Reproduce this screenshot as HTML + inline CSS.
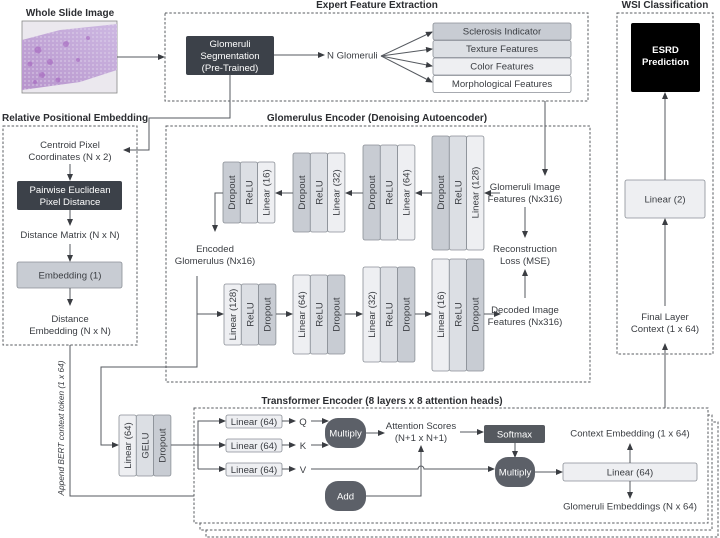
<!DOCTYPE html>
<html><head><meta charset="utf-8"><style>
html,body{margin:0;padding:0;background:#fff;}
svg{display:block;font-family:"Liberation Sans",sans-serif;}
text{fill:#3a3d42;font-size:9.6px;}
.b{font-weight:bold;fill:#2b2d31;font-size:10px;}
.w{fill:#fff;}
.ln{stroke:#55595f;stroke-width:1;fill:none;}
.dash{stroke:#5a5d62;stroke-width:1;fill:none;stroke-dasharray:2.5,1.8;}
.c1{fill:#c8ccd3;stroke:#8a8f96;stroke-width:.8;}
.c2{fill:#dcdfe4;stroke:#8a8f96;stroke-width:.8;}
.c3{fill:#eeeff2;stroke:#8a8f96;stroke-width:.8;}
.dk{fill:#3c4149;}
.pill{fill:#5c6068;}
</style></head><body>
<svg width="720" height="538" viewBox="0 0 720 538" xmlns="http://www.w3.org/2000/svg">
<defs>
<marker id="a" markerWidth="7" markerHeight="6" refX="6" refY="3" orient="auto" markerUnits="userSpaceOnUse"><path d="M0,0 L7,3 L0,6 z" fill="#3a3d42"/></marker>
<linearGradient id="tis" x1="0" y1="1" x2="1" y2="0"><stop offset="0" stop-color="#b794cc"/><stop offset="1" stop-color="#cdb8e2"/></linearGradient>
<pattern id="tx" width="4" height="4" patternUnits="userSpaceOnUse"><rect width="4" height="4" fill="none"/><circle cx="1" cy="1" r="0.9" fill="#e4dcef" opacity=".6"/></pattern>
</defs>

<!-- Whole slide image -->
<text class="b" x="70" y="16" text-anchor="middle">Whole Slide Image</text>
<rect x="22" y="21" width="95" height="72" fill="#ebe8ee" stroke="#888" stroke-width=".8"/>
<path d="M22,40 L60,30 L117,24 L117,70 L80,82 L22,90 Z" fill="url(#tis)"/>
<path d="M22,40 L60,30 L117,24 L117,70 L80,82 L22,90 Z" fill="url(#tx)"/>
<g fill="#a35fbd" opacity=".55">
<circle cx="38" cy="50" r="3.5"/><circle cx="50" cy="62" r="3"/><circle cx="66" cy="44" r="3"/><circle cx="42" cy="75" r="3"/><circle cx="30" cy="64" r="2.5"/><circle cx="58" cy="80" r="2.5"/><circle cx="78" cy="60" r="2"/><circle cx="88" cy="38" r="2"/><circle cx="35" cy="82" r="2"/></g>
<line class="ln" x1="117" y1="57" x2="164" y2="57" marker-end="url(#a)"/>

<!-- Expert Feature Extraction -->
<text class="b" x="377" y="8" text-anchor="middle">Expert Feature Extraction</text>
<rect class="dash" x="165" y="13" width="423" height="88"/>
<rect class="dk" x="186" y="36" width="88" height="39" rx="2"/>
<text class="w" x="230" y="47" text-anchor="middle">Glomeruli</text>
<text class="w" x="230" y="59" text-anchor="middle">Segmentation</text>
<text class="w" x="230" y="71" text-anchor="middle">(Pre-Trained)</text>
<line class="ln" x1="274" y1="55" x2="324" y2="55" marker-end="url(#a)"/>
<text x="327" y="58.5">N Glomeruli</text>
<g class="ln">
<line x1="381" y1="56" x2="432" y2="32" marker-end="url(#a)"/>
<line x1="381" y1="56" x2="432" y2="49" marker-end="url(#a)"/>
<line x1="381" y1="56" x2="432" y2="66" marker-end="url(#a)"/>
<line x1="381" y1="56" x2="432" y2="82" marker-end="url(#a)"/>
</g>
<rect class="c1" x="433" y="23" width="138" height="17" rx="2"/>
<rect class="c2" x="433" y="40.5" width="138" height="17" rx="2"/>
<rect class="c3" x="433" y="58" width="138" height="17" rx="2"/>
<rect x="433" y="75.5" width="138" height="17" rx="2" fill="#fff" stroke="#8a8f96" stroke-width=".8"/>
<text x="502" y="34.5" text-anchor="middle">Sclerosis Indicator</text>
<text x="502" y="52" text-anchor="middle">Texture Features</text>
<text x="502" y="69.5" text-anchor="middle">Color Features</text>
<text x="502" y="87" text-anchor="middle">Morphological Features</text>

<!-- WSI classification -->
<text class="b" x="665" y="8" text-anchor="middle">WSI Classification</text>
<rect class="dash" x="617" y="13" width="96" height="341"/>
<rect x="631" y="23" width="69" height="69" rx="2" fill="#000"/>
<text class="w" x="665.5" y="53" text-anchor="middle" style="font-weight:bold">ESRD</text>
<text class="w" x="665.5" y="65" text-anchor="middle" style="font-weight:bold">Prediction</text>
<rect class="c3" x="625" y="180" width="80" height="38" rx="2"/>
<text x="665" y="202.5" text-anchor="middle">Linear (2)</text>
<line class="ln" x1="665" y1="180" x2="665" y2="93" marker-end="url(#a)"/>
<line class="ln" x1="665" y1="306" x2="665" y2="219" marker-end="url(#a)"/>
<text x="665" y="320" text-anchor="middle">Final Layer</text>
<text x="665" y="332" text-anchor="middle">Context (1 x 64)</text>
<line class="ln" x1="665" y1="421" x2="665" y2="344" marker-end="url(#a)"/>

<!-- Relative positional embedding -->
<text class="b" x="2" y="121">Relative Positional Embedding</text>
<rect class="dash" x="3" y="126" width="134" height="219"/>
<polyline class="ln" points="230,75 230,118 149,118 149,150 124,150" marker-end="url(#a)"/>
<text x="70" y="148" text-anchor="middle">Centroid Pixel</text>
<text x="70" y="160" text-anchor="middle">Coordinates (N x 2)</text>
<line class="ln" x1="70" y1="164" x2="70" y2="180" marker-end="url(#a)"/>
<rect class="dk" x="17" y="181" width="105" height="29" rx="2"/>
<text class="w" x="70" y="193" text-anchor="middle">Pairwise Euclidean</text>
<text class="w" x="70" y="205" text-anchor="middle">Pixel Distance</text>
<line class="ln" x1="70" y1="210" x2="70" y2="225" marker-end="url(#a)"/>
<text x="70" y="238" text-anchor="middle">Distance Matrix (N x N)</text>
<line class="ln" x1="70" y1="244" x2="70" y2="261" marker-end="url(#a)"/>
<rect class="c1" x="17" y="262" width="105" height="26" rx="2"/>
<text x="70" y="278.5" text-anchor="middle">Embedding (1)</text>
<line class="ln" x1="70" y1="288" x2="70" y2="305" marker-end="url(#a)"/>
<text x="70" y="322" text-anchor="middle">Distance</text>
<text x="70" y="334" text-anchor="middle">Embedding (N x N)</text>
<polyline class="ln" points="70,345 70,496 324,496" marker-end="url(#a)"/>
<text transform="translate(64,428) rotate(-90)" text-anchor="middle" style="font-size:8.3px;font-style:italic">Append BERT context token (1 x 64)</text>

<!-- Glomerulus encoder -->
<text class="b" x="377" y="121" text-anchor="middle">Glomerulus Encoder (Denoising Autoencoder)</text>
<rect class="dash" x="166" y="126" width="424" height="256"/>

<g>
<rect class="c1" x="223" y="162" width="17.3" height="61" rx="2"/><rect class="c2" x="240.3" y="162" width="17.3" height="61" rx="2"/><rect class="c3" x="257.6" y="162" width="17.3" height="61" rx="2"/>
<rect class="c1" x="293" y="153" width="17.3" height="79" rx="2"/><rect class="c2" x="310.3" y="153" width="17.3" height="79" rx="2"/><rect class="c3" x="327.6" y="153" width="17.3" height="79" rx="2"/>
<rect class="c1" x="363" y="145" width="17.3" height="95" rx="2"/><rect class="c2" x="380.3" y="145" width="17.3" height="95" rx="2"/><rect class="c3" x="397.6" y="145" width="17.3" height="95" rx="2"/>
<rect class="c1" x="432" y="136" width="17.3" height="114" rx="2"/><rect class="c2" x="449.3" y="136" width="17.3" height="114" rx="2"/><rect class="c3" x="466.6" y="136" width="17.3" height="114" rx="2"/>
</g>
<g text-anchor="middle">
<text transform="translate(235,192.5) rotate(-90)">Dropout</text><text transform="translate(252.3,192.5) rotate(-90)">ReLU</text><text transform="translate(269.6,192.5) rotate(-90)">Linear (16)</text>
<text transform="translate(305,192.5) rotate(-90)">Dropout</text><text transform="translate(322.3,192.5) rotate(-90)">ReLU</text><text transform="translate(339.6,192.5) rotate(-90)">Linear (32)</text>
<text transform="translate(375,192.5) rotate(-90)">Dropout</text><text transform="translate(392.3,192.5) rotate(-90)">ReLU</text><text transform="translate(409.6,192.5) rotate(-90)">Linear (64)</text>
<text transform="translate(444,192.5) rotate(-90)">Dropout</text><text transform="translate(461.3,192.5) rotate(-90)">ReLU</text><text transform="translate(478.6,192.5) rotate(-90)">Linear (128)</text>
</g>
<line class="ln" x1="500" y1="193" x2="485" y2="193" marker-end="url(#a)"/>
<line class="ln" x1="432" y1="193" x2="416" y2="193" marker-end="url(#a)"/>
<line class="ln" x1="363" y1="193" x2="346" y2="193" marker-end="url(#a)"/>
<line class="ln" x1="293" y1="193" x2="276" y2="193" marker-end="url(#a)"/>
<polyline class="ln" points="223,193 215,193 215,231" marker-end="url(#a)"/>
<text x="215" y="252" text-anchor="middle">Encoded</text>
<text x="215" y="264" text-anchor="middle">Glomerulus (Nx16)</text>
<text x="525" y="190" text-anchor="middle">Glomeruli Image</text>
<text x="525" y="202" text-anchor="middle">Features (Nx316)</text>
<line class="ln" x1="545" y1="101" x2="545" y2="175" marker-end="url(#a)"/>
<line class="ln" x1="525" y1="207" x2="525" y2="237" marker-end="url(#a)"/>
<text x="525" y="252" text-anchor="middle">Reconstruction</text>
<text x="525" y="264" text-anchor="middle">Loss (MSE)</text>
<line class="ln" x1="525" y1="298" x2="525" y2="270" marker-end="url(#a)"/>
<text x="525" y="313" text-anchor="middle">Decoded Image</text>
<text x="525" y="325" text-anchor="middle">Features (Nx316)</text>

<g>
<rect class="c3" x="224" y="284" width="17.3" height="61" rx="2"/><rect class="c2" x="241.3" y="284" width="17.3" height="61" rx="2"/><rect class="c1" x="258.6" y="284" width="17.3" height="61" rx="2"/>
<rect class="c3" x="293" y="275" width="17.3" height="79" rx="2"/><rect class="c2" x="310.3" y="275" width="17.3" height="79" rx="2"/><rect class="c1" x="327.6" y="275" width="17.3" height="79" rx="2"/>
<rect class="c3" x="363" y="267" width="17.3" height="95" rx="2"/><rect class="c2" x="380.3" y="267" width="17.3" height="95" rx="2"/><rect class="c1" x="397.6" y="267" width="17.3" height="95" rx="2"/>
<rect class="c3" x="432" y="259" width="17.3" height="112" rx="2"/><rect class="c2" x="449.3" y="259" width="17.3" height="112" rx="2"/><rect class="c1" x="466.6" y="259" width="17.3" height="112" rx="2"/>
</g>
<g text-anchor="middle">
<text transform="translate(236,314.5) rotate(-90)">Linear (128)</text><text transform="translate(253.3,314.5) rotate(-90)">ReLU</text><text transform="translate(270.6,314.5) rotate(-90)">Dropout</text>
<text transform="translate(305,314.5) rotate(-90)">Linear (64)</text><text transform="translate(322.3,314.5) rotate(-90)">ReLU</text><text transform="translate(339.6,314.5) rotate(-90)">Dropout</text>
<text transform="translate(375,314.5) rotate(-90)">Linear (32)</text><text transform="translate(392.3,314.5) rotate(-90)">ReLU</text><text transform="translate(409.6,314.5) rotate(-90)">Dropout</text>
<text transform="translate(444,314.5) rotate(-90)">Linear (16)</text><text transform="translate(461.3,314.5) rotate(-90)">ReLU</text><text transform="translate(478.6,314.5) rotate(-90)">Dropout</text>
</g>
<polyline class="ln" points="197,276 197,314 223,314" marker-end="url(#a)"/>
<line class="ln" x1="276" y1="314" x2="292" y2="314" marker-end="url(#a)"/>
<line class="ln" x1="345" y1="314" x2="362" y2="314" marker-end="url(#a)"/>
<line class="ln" x1="415" y1="314" x2="431" y2="314" marker-end="url(#a)"/>
<line class="ln" x1="484" y1="314" x2="500" y2="314" marker-end="url(#a)"/>
<polyline class="ln" points="197,314 197,367 101,367 101,445 118,445" marker-end="url(#a)"/>

<rect class="c3" x="119" y="415" width="17.3" height="61" rx="2"/><rect class="c2" x="136.3" y="415" width="17.3" height="61" rx="2"/><rect class="c1" x="153.6" y="415" width="17.3" height="61" rx="2"/>
<g text-anchor="middle">
<text transform="translate(131,445.5) rotate(-90)">Linear (64)</text><text transform="translate(148.3,445.5) rotate(-90)">GELU</text><text transform="translate(165.6,445.5) rotate(-90)">Dropout</text>
</g>

<!-- Transformer -->
<text class="b" x="382" y="404" text-anchor="middle">Transformer Encoder (8 layers x 8 attention heads)</text>
<rect class="dash" x="206" y="422" width="512" height="115"/>
<rect x="200" y="415" width="512" height="115" fill="#fff" stroke="#5a5d62" stroke-dasharray="2.5,1.8"/>
<rect x="194" y="408" width="514" height="115" fill="#fff" stroke="#5a5d62" stroke-dasharray="2.5,1.8"/>

<polyline class="ln" points="171,445 198,445"/>
<polyline class="ln" points="198,469 198,421 225,421" marker-end="url(#a)"/>
<line class="ln" x1="198" y1="445" x2="225" y2="445" marker-end="url(#a)"/>
<line class="ln" x1="198" y1="469" x2="225" y2="469" marker-end="url(#a)"/>
<rect class="c3" x="226" y="415" width="56" height="13" rx="2"/>
<rect class="c3" x="226" y="439" width="56" height="13" rx="2"/>
<rect class="c3" x="226" y="463" width="56" height="13" rx="2"/>
<text x="254" y="425" text-anchor="middle">Linear (64)</text>
<text x="254" y="449" text-anchor="middle">Linear (64)</text>
<text x="254" y="473" text-anchor="middle">Linear (64)</text>
<line class="ln" x1="282" y1="421" x2="295" y2="421" marker-end="url(#a)"/>
<line class="ln" x1="282" y1="445" x2="295" y2="445" marker-end="url(#a)"/>
<line class="ln" x1="282" y1="469" x2="295" y2="469" marker-end="url(#a)"/>
<text x="303" y="425" text-anchor="middle">Q</text>
<text x="303" y="449" text-anchor="middle">K</text>
<text x="303" y="473" text-anchor="middle">V</text>
<line class="ln" x1="311" y1="421" x2="328" y2="421" marker-end="url(#a)"/>
<line class="ln" x1="311" y1="445" x2="328" y2="445" marker-end="url(#a)"/>
<rect class="pill" x="325" y="418" width="41" height="30" rx="13"/>
<text class="w" x="345.5" y="436.5" text-anchor="middle">Multiply</text>
<rect class="pill" x="325" y="481" width="41" height="30" rx="13"/>
<text class="w" x="345.5" y="499.5" text-anchor="middle">Add</text>
<line class="ln" x1="366" y1="433" x2="384" y2="433" marker-end="url(#a)"/>
<text x="421" y="429" text-anchor="middle">Attention Scores</text>
<text x="421" y="441" text-anchor="middle">(N+1 x N+1)</text>
<line class="ln" x1="460" y1="432" x2="483" y2="432" marker-end="url(#a)"/>
<rect x="484" y="425" width="61" height="18" rx="2" fill="#55595f"/>
<text class="w" x="514.5" y="437.5" text-anchor="middle">Softmax</text>
<line class="ln" x1="515" y1="443" x2="515" y2="457" marker-end="url(#a)"/>
<path class="ln" d="M311,469 L418,469 A3,3 0 0 1 424,469 L494,469" marker-end="url(#a)"/>
<polyline class="ln" points="366,496 421,496 421,446" marker-end="url(#a)"/>
<rect class="pill" x="495" y="457" width="40" height="30" rx="13"/>
<text class="w" x="515" y="475.5" text-anchor="middle">Multiply</text>
<line class="ln" x1="535" y1="472" x2="562" y2="472" marker-end="url(#a)"/>
<rect class="c3" x="563" y="463" width="134" height="18" rx="2"/>
<text x="630" y="475.5" text-anchor="middle">Linear (64)</text>
<line class="ln" x1="630" y1="463" x2="630" y2="444" marker-end="url(#a)"/>
<line class="ln" x1="630" y1="481" x2="630" y2="498" marker-end="url(#a)"/>
<text x="630" y="436.5" text-anchor="middle">Context Embedding (1 x 64)</text>
<text x="630" y="509.5" text-anchor="middle">Glomeruli Embeddings (N x 64)</text>
</svg>
</body></html>
